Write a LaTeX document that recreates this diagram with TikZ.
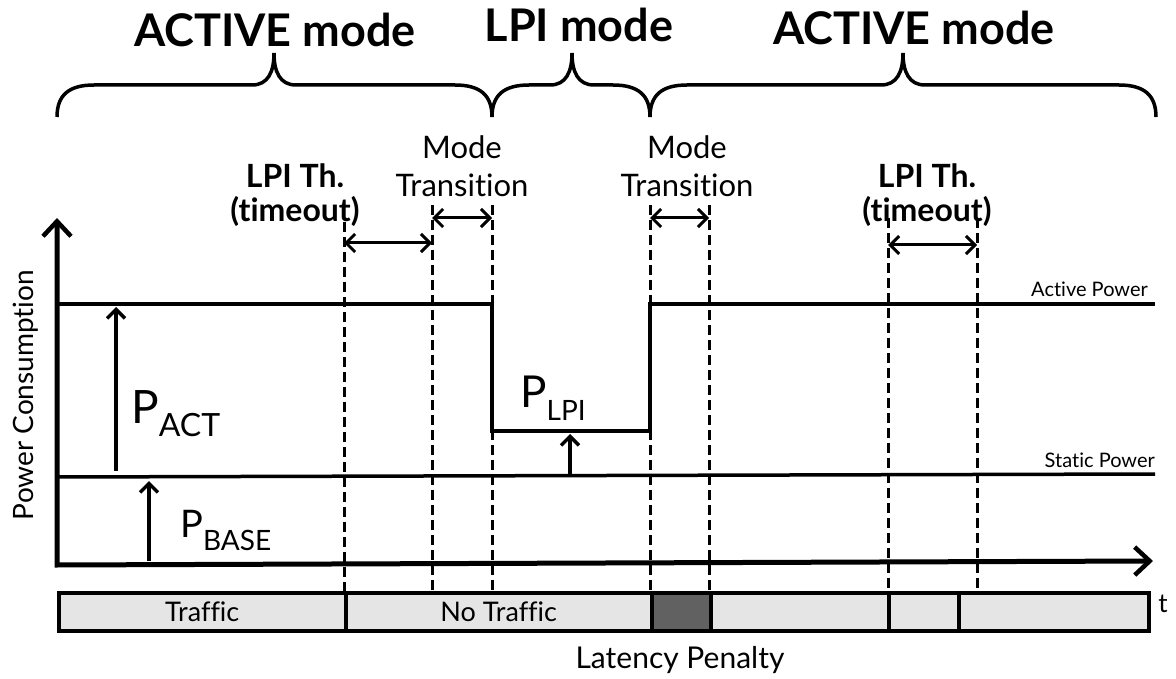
\documentclass[tikz,border=0pt]{standalone}
\usepackage{fontspec}
\setmainfont{Lato}[Ligatures=NoCommon]
\usetikzlibrary{arrows.meta}
\newcommand\plabel[3]{{\fontsize{#1}{#1}\selectfont P}\raisebox{-13pt}{\fontsize{#2}{#2}\selectfont #3}}

\begin{document}
\begin{tikzpicture}[
    x=1pt, y=-1pt,
    every node/.style={inner sep=0pt},
    mode text/.style={font=\bfseries\fontsize{45}{50}\selectfont, anchor=base},
    step text/.style={font=\fontsize{31}{38}\selectfont, align=center, anchor=base},
    th text/.style={font=\bfseries\fontsize{32}{34}\selectfont, align=center, anchor=base},
    level text/.style={font=\fontsize{20}{22}\selectfont, anchor=base east},
    axis/.style={line width=5pt, line join=miter,
        {Straight Barb[length=15pt,width=28pt,line width=4.5pt]}-{Straight Barb[length=15pt,width=28pt,line width=4.5pt]}},
    power/.style={line width=3.5pt, line join=miter},
    guide/.style={line width=3pt, dash pattern=on 10pt off 5pt},
    span/.style={line width=3pt, {Straight Barb[length=9pt,width=18pt]}-{Straight Barb[length=9pt,width=18pt]}},
    rise/.style={line width=3.5pt, -{Straight Barb[length=9pt,width=18pt]}},
    mode brace/.style={line width=3.5pt},
    slot/.style={draw, line width=3.5pt, fill=black!10, minimum height=38pt, anchor=north west,
        font=\fontsize{27}{30}\selectfont},
]
\useasboundingbox (0,0) rectangle (1176,679);

\foreach \a/\m/\b in {57/274/492, 492/572/650, 650/903/1156}
    \draw[mode brace] (\a,117) .. controls (\a,95) and (\a+12,85) .. (\a+37,85) -- (\m-22,85)
        .. controls (\m-6,85) and (\m,72) .. (\m,53) .. controls (\m,72) and (\m+6,85) .. (\m+22,85)
        -- (\b-37,85) .. controls (\b-12,85) and (\b,95) .. (\b,117);
\node[mode text] (active1) at (275,47) {ACTIVE mode};
\node[mode text] (lpi) at (579,42) {LPI mode};
\node[mode text] (active2) at (914,45) {ACTIVE mode};

\node[step text] (trans1) at (462,197) {Mode\\Transition};
\node[step text] (trans2) at (687,197) {Mode\\Transition};
\node[th text] (th1) at (295,222) {LPI Th.\\(timeout)};
\node[th text] (th2) at (927,222) {LPI Th.\\(timeout)};

\coordinate (top) at (57,218);
\coordinate (origin) at (57,565);
\coordinate (end) at (1153,561);
\draw[axis] (top) -- (origin) -- (end);
\node[rotate=90, anchor=base, font=\fontsize{28}{30}\selectfont] (ylabel) at (34,395) {Power Consumption};

\foreach \x/\y in {344/222, 432/205, 492/205, 650/205, 709/205, 888/218, 977/218}
    \draw[guide] (\x,\y) -- (\x,591);
\draw[span] (344,243) -- (432,243);
\draw[span] (432,218) -- (492,218);
\draw[span] (650,218) -- (709,218);
\draw[span] (888,245) -- (977,245);

\draw[power] (57,304) -- (492,304) -- (492,431) -- (650,431) -- (650,304) -- (1155,304);
\draw[power] (57,477) -- (1155,474);
\node[level text] (actp) at (1148,297) {Active Power};
\node[level text] (statp) at (1155,467) {Static Power};

\draw[rise] (116,471) -- (116,307);
\draw[rise] (149,561) -- (149,481);
\draw[rise] (570,475) -- (570,434);
\node[anchor=base west] (pact) at (131,423) {\plabel{46}{32}{ACT}};
\node[anchor=base west] (pbase) at (180,537) {\plabel{38}{28}{BASE}};
\node[anchor=base west] (plpi) at (520,407) {\plabel{44}{28}{LPI}};

\node[slot, minimum width=287pt] (traffic) at (57,591) {Traffic};
\node[slot, minimum width=306pt] (idle) at (344,591) {No Traffic};
\node[slot, minimum width=59pt, fill=black!62] (penalty) at (650,591) {};
\node[slot, minimum width=178pt] (busy1) at (709,591) {};
\node[slot, minimum width=70pt] (busy2) at (887,591) {};
\node[slot, minimum width=190pt] (busy3) at (957,591) {};
\node[font=\fontsize{26}{30}\selectfont] (time) at (1163,604) {t};
\node[anchor=base, font=\fontsize{30}{34}\selectfont] (latency) at (680,668) {Latency Penalty};
\end{tikzpicture}
\end{document}
